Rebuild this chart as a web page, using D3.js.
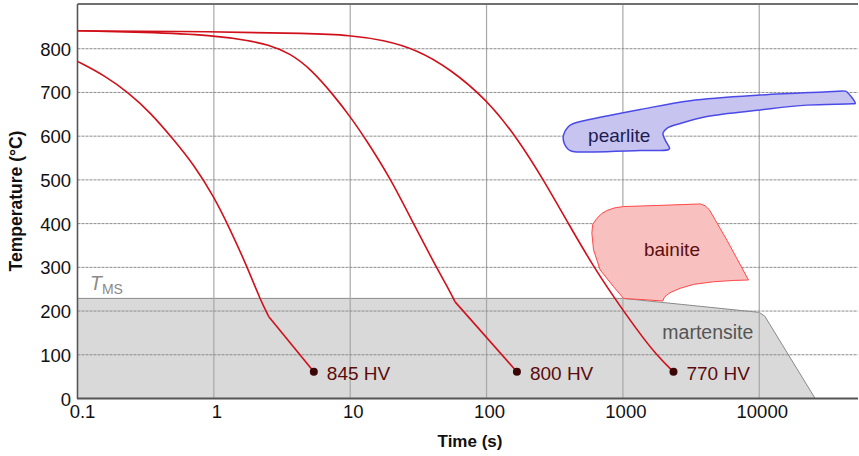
<!DOCTYPE html>
<html><head><meta charset="utf-8">
<script src="https://cdn.jsdelivr.net/npm/d3@7"></script>
<style>body{margin:0;background:#fff}svg{display:block;font-family:"Liberation Sans",Arial,sans-serif}</style>
</head><body><svg id="c" width="859" height="456"></svg>
<script>
// ---- data ----
const xTicks = [0.1, 1, 10, 100, 1000, 10000];
const xTickLabels = ["0.1", "1", "10", "100", "1000", "10000"];
const yTicks = [0, 100, 200, 300, 400, 500, 600, 700, 800];
const xDomain = [0.1, 53000];
const yDomain = [0, 900];
// cooling curves [time s, temperature °C]; for the first two the last segment is straight (martensite)
const curve845 = [[0.1,771],[0.16,738],[0.24,698],[0.34,655],[0.508,592],[0.712,535],[1.0,462],[1.32,386],[1.75,302],[2.19,226],[2.53,187],[5.41,61]];
const curve800 = [[0.1,841],[0.3,838],[1,831],[1.84,818],[2.46,810],[3.62,790],[5.2,752],[7.5,695],[10,645],[13.2,590],[19.6,505],[29.1,400],[42,305],[51.1,258],[58.8,221],[167,61]];
const curve770 = [[0.1,841],[1,839],[5,835],[10,831],[17.5,820],[30.8,798],[54,754],[100,684],[167,597],[262,500],[410,393],[608,302],[853,233],[1267,157],[1776,98],[2350,61]];
const hardness = ["845 HV", "800 HV", "770 HV"];
const tMS = 229;
const martensite = [[0.1,0],[0.1,229],[1000,229],[10000,197],[11000,188],[25700,0]];
const bainite = [[1010,439],[2000,442],[3000,444],[3690,445],[4000,441],[4300,432],[5800,362],[8340,271],[6500,270],[4620,267],[3300,261],[2630,252],[2250,243],[2100,237],[2000,230],[1966,223],[1010,229],[853,256],[681,294],[609,340],[592,378],[600,398],[644,412],[700,423],[763,430],[870,436]];
const pearlite = [[434,629],[763,646],[1340,661],[3118,681],[10170,694],[30000,701],[42760,703],[44000,701],[50600,675],[48000,674],[22390,671],[10170,660],[4131,645],[2633,629],[2103,618],[1966,607],[2044,591],[2200,572],[2150,569],[1340,567],[576,564],[411,567],[371,584],[367,603],[399,622]];
const phaseLabels = [{text:"pearlite", t:940, T:587}, {text:"bainite", t:2290, T:325}, {text:"martensite", t:4200, T:135}];

// ---- layout ----
const svg = d3.select("#c");
const x = d3.scaleLog().domain(xDomain).range([77.5, 858]);
const y = d3.scaleLinear().domain(yDomain).range([398.5, 5]);
const line = d3.line().x(d => x(d[0])).y(d => y(d[1]));

// martensite region
svg.append("path").datum(martensite)
  .attr("d", line).attr("fill", "#d9d9d9").attr("stroke", "#8a8a8a").attr("stroke-width", 1);

// grid
svg.append("g").selectAll("line").data(xTicks).join("line")
  .attr("x1", d => x(d)).attr("x2", d => x(d)).attr("y1", 5).attr("y2", 398.5)
  .attr("stroke", "#a8a8a8").attr("stroke-width", 1.2);
svg.append("g").selectAll("line").data(yTicks.filter(d => d > 0)).join("line")
  .attr("x1", 77.5).attr("x2", 858).attr("y1", d => y(d)).attr("y2", d => y(d))
  .attr("stroke", "#8c8c8c").attr("stroke-width", 1).attr("stroke-dasharray", "3,1");

// phase regions
const closed = d3.line().x(d => x(d[0])).y(d => y(d[1])).curve(d3.curveLinearClosed);
svg.append("path").datum(bainite).attr("d", closed)
  .attr("fill", "#f9c0c0").attr("stroke", "#ff4848").attr("stroke-width", 1);
svg.append("path").datum(pearlite).attr("d", d3.line().x(d => x(d[0])).y(d => y(d[1])).curve(d3.curveCatmullRomClosed.alpha(0.5)))
  .attr("fill", "#c8c4f0").attr("stroke", "#4a4ae8").attr("stroke-width", 1.5);

// axes lines
svg.append("line").attr("x1", 77.5).attr("x2", 858).attr("y1", 4).attr("y2", 4).attr("stroke", "#707070").attr("stroke-width", 2);
svg.append("line").attr("x1", 77.5).attr("x2", 77.5).attr("y1", 4).attr("y2", 399).attr("stroke", "#555").attr("stroke-width", 1.5);
svg.append("line").attr("x1", 77).attr("x2", 858).attr("y1", 398.5).attr("y2", 398.5).attr("stroke", "#555").attr("stroke-width", 2);

// cooling curves
const curves = [curve845, curve800, curve770];
const smooth = d3.line().x(d => x(d[0])).y(d => y(d[1])).curve(d3.curveBasis);
curves.forEach((c, i) => {
  const straightTail = i < 2;
  const head = straightTail ? c.slice(0, c.length - 1) : c;
  svg.append("path").datum(head).attr("d", smooth).attr("fill", "none").attr("stroke", "#d0101a").attr("stroke-width", 1.6);
  if (straightTail) {
    svg.append("path").datum(c.slice(c.length - 2)).attr("d", line)
      .attr("fill", "none").attr("stroke", "#d0101a").attr("stroke-width", 1.6);
  }
  const end = c[c.length - 1];
  svg.append("circle").attr("cx", x(end[0])).attr("cy", y(end[1])).attr("r", 4).attr("fill", "#3a0505");
  svg.append("text").attr("x", x(end[0]) + 13).attr("y", y(end[1]) + 8)
    .attr("font-size", 19).attr("fill", "#5c0a0a").text(hardness[i]);
});

// phase labels
const phaseColors = ["#1c1c52", "#5a0f0f", "#555555"];
phaseLabels.forEach((p, i) => {
  svg.append("text").attr("x", x(p.t)).attr("y", y(p.T)).attr("text-anchor", "middle")
    .attr("font-size", i === 2 ? 19.5 : 19).attr("fill", phaseColors[i]).text(p.text);
});

// T_MS label
const tms = svg.append("text").attr("x", 90).attr("y", y(tMS) - 8).attr("fill", "#8a8a8a").attr("font-size", 19.5);
tms.append("tspan").attr("font-style", "italic").text("T");
tms.append("tspan").attr("font-size", 14).attr("dy", 4).text("MS");

// tick labels
svg.append("g").selectAll("text").data(xTicks).join("text")
  .attr("x", (d, i) => x(d) + (i === 0 ? 5 : 3)).attr("y", 418).attr("text-anchor", "middle")
  .attr("font-size", 18.5).attr("fill", "#111").text((d, i) => xTickLabels[i]);
svg.append("g").selectAll("text").data(yTicks).join("text")
  .attr("x", 71).attr("y", d => y(d) + 7).attr("text-anchor", "end")
  .attr("font-size", 18.5).attr("fill", "#111").text(d => d);

// axis titles
svg.append("text").attr("x", 470).attr("y", 447).attr("text-anchor", "middle")
  .attr("font-size", 17).attr("font-weight", "bold").attr("fill", "#111").text("Time (s)");
svg.append("text").attr("transform", "translate(22,201) rotate(-90)").attr("text-anchor", "middle")
  .attr("font-size", 17.5).attr("font-weight", "bold").attr("fill", "#111").text("Temperature (°C)");
</script></body></html>
